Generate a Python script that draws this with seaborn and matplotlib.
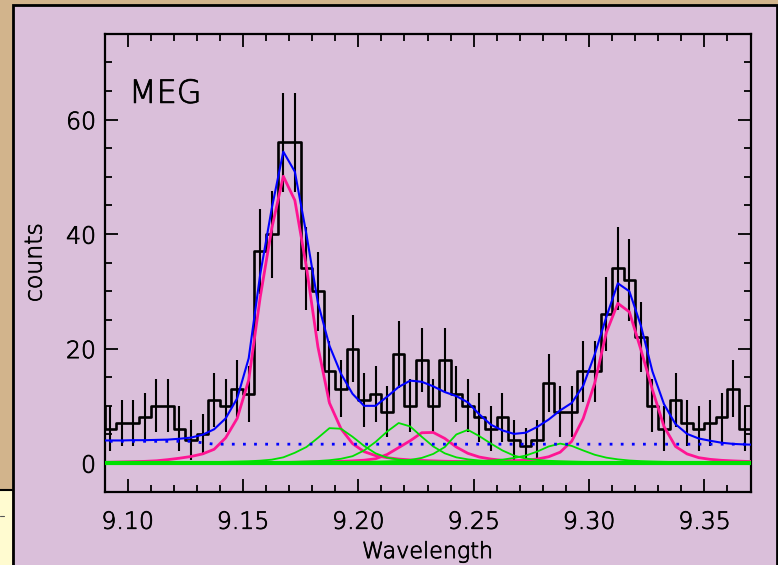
import numpy as np
import pandas as pd
import matplotlib
matplotlib.use("Agg")
import matplotlib.pyplot as plt
import seaborn as sns
from matplotlib.patches import Rectangle
from matplotlib.lines import Line2D
from matplotlib.ticker import MultipleLocator, FormatStrFormatter
from matplotlib import font_manager
import matplotlib.patheffects as pe

sns.set_theme(style="ticks")
plt.rcParams['font.family'] = ['DejaVu Sans']

# use a light weight of DejaVu Sans if one is installed
light_ok = any(f.name == 'DejaVu Sans' and (isinstance(f.weight, int) and f.weight < 400
               or str(f.weight).lower() in ('light', 'extra light', 'ultralight', 'extralight'))
               for f in font_manager.fontManager.ttflist)
FW = 200 if light_ok else 'normal'
TXT_FX = [pe.withStroke(linewidth=0.55, foreground='black')] if light_ok else []

# ---------------- data (bin centres, 0.005 A bins) ----------------
wavelength = np.round(9.0875 + 0.005 * np.arange(58), 4)

counts = [10,
          6, 7, 7, 8, 10, 10, 6, 4, 5, 11,
          10, 13, 12, 37, 40, 56, 56, 34, 30, 16,
          13, 20, 11, 12, 9, 19, 10, 18, 10, 18,
          12, 10, 8, 6, 8, 4, 3, 4, 14, 9,
          9, 16, 16, 26, 34, 32, 22, 10, 6, 11,
          7, 6, 7, 8, 13, 6,
          10]

errors = [4.6,
          3.9, 4.1, 4.1, 4.3, 4.6, 4.6, 3.9, 3.5, 3.6, 4.7,
          4.6, 5.0, 4.9, 7.4, 7.6, 8.7, 8.7, 7.2, 6.9, 5.4,
          5.0, 5.9, 4.7, 4.9, 4.4, 5.8, 4.6, 5.6, 4.6, 5.6,
          4.9, 4.6, 4.3, 3.9, 4.3, 3.5, 3.2, 3.5, 5.1, 4.4,
          4.4, 5.4, 5.4, 6.5, 7.2, 7.1, 6.1, 4.6, 3.9, 4.7,
          4.1, 3.9, 4.1, 4.3, 5.0, 3.9,
          4.6]

total_model = [3.95,
               3.95, 3.95, 4.0, 4.0, 4.05, 4.1, 4.25, 4.45, 4.95, 5.9,
               7.8, 11.3, 18.3, 33.0, 44.5, 54.4, 50.9, 40.0, 28.0, 20.5,
               15.6, 12.1, 10.0, 10.0, 11.6, 13.3, 14.4, 14.2, 13.4, 12.4,
               11.7, 10.6, 8.5, 6.7, 5.7, 5.1, 5.3, 6.3, 7.6, 9.2,
               10.5, 13.5, 19.0, 25.5, 31.4, 30.0, 24.0, 16.0, 10.3, 6.8,
               5.1, 4.3, 3.9, 3.55, 3.35, 3.25,
               3.2]

continuum = [3.8,
             3.8, 3.8, 3.8, 3.8, 3.8, 3.8, 3.8, 3.8, 3.55, 3.3,
             3.3, 3.3, 3.3, 3.3, 3.3, 3.3, 3.3, 3.3, 3.3, 3.3,
             3.3, 3.3, 3.3, 3.3, 3.3, 3.3, 3.3, 3.3, 3.3, 3.3,
             3.3, 3.3, 3.3, 3.3, 3.3, 3.3, 3.3, 3.3, 3.3, 3.3,
             3.3, 3.3, 3.3, 3.3, 3.3, 3.3, 3.3, 3.3, 3.3, 3.3,
             3.3, 3.3, 3.3, 3.3, 3.3, 3.3,
             3.3]

strong_line_1 = [0.12,
                 0.15, 0.2, 0.25, 0.3, 0.4, 0.6, 0.85, 1.15, 1.6, 2.4,
                 4.4, 7.8, 14.5, 29.0, 41.0, 50.1, 45.9, 34.3, 20.3, 10.5,
                 6.0, 3.4, 2.0, 1.3, 0.95, 0.7, 0.55, 0.45, 0.38, 0.32,
                 0.28, 0.24, 0.21, 0.19, 0.17, 0.15, 0.14, 0.13, 0.12, 0.11,
                 0.1, 0.1, 0.09, 0.09, 0.08, 0.08, 0.07, 0.07, 0.07, 0.06,
                 0.06, 0.06, 0.05, 0.05, 0.05, 0.05,
                 0.05]

strong_line_2 = [0.02,
                 0.02, 0.02, 0.02, 0.03, 0.03, 0.03, 0.04, 0.04, 0.05, 0.05,
                 0.06, 0.07, 0.08, 0.09, 0.1, 0.12, 0.14, 0.17, 0.2, 0.25,
                 0.3, 0.38, 0.5, 0.75, 1.5, 2.7, 3.9, 5.3, 5.35, 4.3,
                 2.8, 1.7, 1.05, 0.7, 0.48, 0.36, 0.28, 0.22, 0.18, 0.15,
                 0.13, 0.11, 0.1, 0.09, 0.08, 0.07, 0.06, 0.06, 0.05, 0.05,
                 0.04, 0.04, 0.04, 0.03, 0.03, 0.03,
                 0.03]

strong_line_3 = [0.02,
                 0.02, 0.02, 0.02, 0.02, 0.03, 0.03, 0.03, 0.03, 0.04, 0.04,
                 0.04, 0.05, 0.05, 0.06, 0.06, 0.07, 0.07, 0.08, 0.08, 0.09,
                 0.1, 0.11, 0.12, 0.13, 0.14, 0.15, 0.16, 0.17, 0.18, 0.19,
                 0.2, 0.22, 0.25, 0.28, 0.32, 0.38, 0.5, 0.7, 1.1, 1.9,
                 3.8, 7.8, 14.0, 22.8, 27.9, 26.4, 19.8, 12.8, 6.4, 2.9,
                 1.6, 0.95, 0.65, 0.48, 0.38, 0.3,
                 0.25]

weak_line_1 = [0.05,
               0.05, 0.06, 0.07, 0.08, 0.09, 0.1, 0.12, 0.14, 0.16, 0.19,
               0.22, 0.26, 0.32, 0.42, 0.6, 1.0, 1.8, 2.8, 4.4, 6.1,
               6.0, 4.6, 3.0, 1.7, 0.95, 0.6, 0.42, 0.32, 0.26, 0.22,
               0.19, 0.17, 0.15, 0.13, 0.12, 0.11, 0.1, 0.09, 0.08, 0.08,
               0.07, 0.07, 0.06, 0.06, 0.06, 0.05, 0.05, 0.05, 0.04, 0.04,
               0.04, 0.04, 0.04, 0.04, 0.03, 0.03,
               0.03]

weak_line_2 = [0.03,
               0.03, 0.03, 0.04, 0.04, 0.04, 0.05, 0.05, 0.06, 0.07, 0.08,
               0.09, 0.1, 0.11, 0.13, 0.15, 0.18, 0.22, 0.28, 0.36, 0.5,
               0.75, 1.2, 2.2, 3.7, 5.5, 7.0, 6.4, 4.6, 2.9, 1.7,
               1.0, 0.65, 0.45, 0.34, 0.27, 0.22, 0.18, 0.16, 0.14, 0.12,
               0.11, 0.1, 0.09, 0.08, 0.08, 0.07, 0.07, 0.06, 0.06, 0.05,
               0.05, 0.05, 0.05, 0.04, 0.04, 0.04,
               0.04]

weak_line_3 = [0.02,
               0.02, 0.02, 0.02, 0.03, 0.03, 0.03, 0.03, 0.04, 0.04, 0.04,
               0.05, 0.05, 0.06, 0.06, 0.07, 0.08, 0.09, 0.1, 0.11, 0.13,
               0.15, 0.17, 0.2, 0.24, 0.3, 0.38, 0.55, 0.9, 1.6, 2.8,
               5.0, 5.8, 4.7, 3.4, 2.2, 1.3, 0.8, 0.55, 0.4, 0.32,
               0.26, 0.22, 0.19, 0.17, 0.15, 0.13, 0.12, 0.11, 0.1, 0.09,
               0.08, 0.08, 0.07, 0.07, 0.06, 0.06,
               0.06]

weak_line_4 = [0.01,
               0.01, 0.01, 0.01, 0.01, 0.01, 0.02, 0.02, 0.02, 0.02, 0.02,
               0.02, 0.02, 0.02, 0.03, 0.03, 0.03, 0.03, 0.04, 0.04, 0.04,
               0.05, 0.06, 0.06, 0.07, 0.08, 0.09, 0.1, 0.12, 0.14, 0.18,
               0.22, 0.27, 0.34, 0.45, 0.6, 0.9, 1.3, 2.0, 2.9, 3.4,
               3.0, 2.2, 1.45, 0.95, 0.65, 0.45, 0.34, 0.27, 0.22, 0.18,
               0.15, 0.13, 0.11, 0.1, 0.09, 0.08,
               0.08]

zero_level = [0.0] * 58

x_ticks = [9.10, 9.15, 9.20, 9.25, 9.30, 9.35]
y_ticks = [0, 20, 40, 60]

# ---------------- figure ----------------
W, H = 778, 565
LILAC = '#dabfda'
TAN = '#d2b48c'
fig = plt.figure(figsize=(W / 100, H / 100), dpi=100)
fig.patch.set_facecolor(TAN)


def fx(px):
    return px / W


def fy(py):
    return 1 - py / H


# screenshot surroundings
fig.patches.append(Rectangle((0, -0.01), fx(12), fy(490) + 0.01, transform=fig.transFigure,
                             facecolor='#fffbd0', edgecolor='none', zorder=0))
fig.lines.append(Line2D([0, fx(12)], [fy(489.5), fy(489.5)], transform=fig.transFigure,
                        color='black', lw=1.5))
fig.lines.append(Line2D([0, fx(3.5)], [fy(516), fy(516)], transform=fig.transFigure,
                        color='#555555', lw=0.8))
fig.patches.append(Rectangle((fx(12.5), -0.02), fx(776.8) - fx(12.5), fy(4.6) + 0.02,
                             transform=fig.transFigure, facecolor=LILAC,
                             edgecolor='black', lw=2.0, zorder=1))

ax = fig.add_axes([fx(104.5), fy(491.7), fx(750.5) - fx(104.5), fy(33.7) - fy(491.7)])
ax.set_facecolor('none')
ax.set_zorder(2)

# histogram with error bars
sns.lineplot(x=wavelength, y=counts, ax=ax, color='black', lw=1.9,
             drawstyle='steps-mid', estimator=None, sort=False, zorder=3)
ax.errorbar(wavelength, counts, yerr=errors, fmt='none', ecolor='black',
            elinewidth=1.5, capsize=0, zorder=3)

# line components
for comp in (strong_line_1, strong_line_2, strong_line_3):
    sns.lineplot(x=wavelength, y=comp, ax=ax, color='#ff1493', lw=2.0,
                 estimator=None, sort=False, zorder=4)
for comp in (weak_line_1, weak_line_2, weak_line_3, weak_line_4):
    sns.lineplot(x=wavelength, y=comp, ax=ax, color='#00e000', lw=1.3,
                 estimator=None, sort=False, zorder=5)
sns.lineplot(x=wavelength, y=zero_level, ax=ax, color='#00e000', lw=3.0,
             estimator=None, sort=False, zorder=5)

# continuum and total model
sns.lineplot(x=wavelength, y=continuum, ax=ax, color='#0000ff', lw=2.0,
             linestyle=(0, (1, 3)), estimator=None, sort=False, zorder=6)
sns.lineplot(x=wavelength, y=total_model, ax=ax, color='#0000ff', lw=1.5,
             estimator=None, sort=False, zorder=7)

# axes styling
ax.set_xlim(9.09, 9.37)
ax.set_ylim(-5, 75)
ax.set_xticks(x_ticks)
ax.set_yticks(y_ticks)
ax.xaxis.set_major_formatter(FormatStrFormatter('%.2f'))
ax.xaxis.set_minor_locator(MultipleLocator(0.01))
ax.yaxis.set_minor_locator(MultipleLocator(5))
ax.tick_params(which='both', direction='in', top=True, right=True, colors='black',
               labelsize=17, width=1.3)
ax.tick_params(which='major', length=9.5)
ax.tick_params(which='minor', length=5)
ax.tick_params(axis='x', which='major', pad=13)
ax.tick_params(axis='y', which='major', pad=6)
for lab in ax.get_xticklabels() + ax.get_yticklabels():
    lab.set_fontweight(FW)
    lab.set_path_effects(TXT_FX)
for sp in ax.spines.values():
    sp.set_color('black')
    sp.set_linewidth(1.6)

xl = ax.set_xlabel('Wavelength', fontsize=16, color='black', labelpad=6, fontweight=FW)
yl = ax.set_ylabel('counts', fontsize=17, color='black', labelpad=14, fontweight=FW)
xl.set_path_effects(TXT_FX)
yl.set_path_effects(TXT_FX)
ax.text(0.038, 0.849, 'MEG', transform=ax.transAxes, fontsize=23, color='black',
        va='baseline', ha='left', fontweight=FW, path_effects=TXT_FX)

fig.savefig('out.png', dpi=100, facecolor=fig.get_facecolor())
